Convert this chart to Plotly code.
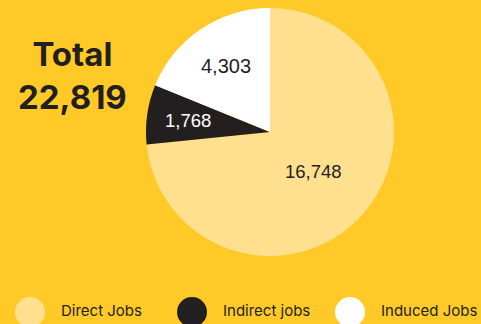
import math
import plotly.graph_objects as go

labels = ["Direct Jobs", "Indirect jobs", "Induced Jobs"]
values = [16748, 1768, 4303]
colors = ["#FFE08F", "#231F20", "#FFFFFF"]
text_colors = ["#231F20", "#FFFFFF", "#231F20"]
total_label = "Total"

W, H = 481, 324
BG = "#FFCA27"
INK = "#231F20"

# pie box in pixels
PX0, PX1, PY0, PY1 = 146, 394, 8, 256
CX, CY, R = (PX0 + PX1) / 2, (PY0 + PY1) / 2, (PX1 - PX0) / 2
label_r = [0.47, 0.67, 0.64]  # how far out the value labels sit
label_size = [18.5, 18.5, 20]

fig = go.Figure(
    go.Pie(
        labels=labels,
        values=values,
        sort=False,
        direction="clockwise",
        rotation=0,
        marker=dict(colors=colors, line=dict(width=0)),
        textinfo="none",
        hoverinfo="label+value",
        showlegend=False,
        domain=dict(x=[PX0 / W, PX1 / W], y=[(H - PY1) / H, (H - PY0) / H]),
    )
)

# value labels at slice mid-angles (clockwise from 12 o'clock)
total = sum(values)
start = 0.0
for v, rf, c, s in zip(values, label_r, text_colors, label_size):
    mid = (start + v / 2) / total * 2 * math.pi
    start += v
    x = CX + math.sin(mid) * R * rf
    y = CY - math.cos(mid) * R * rf
    fig.add_annotation(
        x=x / W, y=1 - y / H, xref="paper", yref="paper",
        xanchor="center", yanchor="middle", showarrow=False,
        text=f"{v:,}", font=dict(family="Liberation Sans, Arial", size=s, color=c),
    )

# total block on the left
fig.add_annotation(
    x=72 / W, y=1 - 75 / H, xref="paper", yref="paper",
    xanchor="center", yanchor="middle",
    text=f"<b>{total_label}<br>{total:,}</b>",
    showarrow=False, align="center",
    font=dict(family="Inter, Lato, sans-serif", size=33, color=INK, weight=800),
)

# legend with big round markers
legend_x = [30, 192, 350]
for i, name in enumerate(labels):
    cx = legend_x[i]
    fig.add_shape(
        type="circle", xref="paper", yref="paper",
        x0=(cx - 15) / W, x1=(cx + 15) / W,
        y0=1 - 327 / H, y1=1 - 297 / H,
        fillcolor=colors[i], line=dict(width=0),
    )
    fig.add_annotation(
        x=(cx + 29) / W, y=1 - 310 / H, xref="paper", yref="paper",
        text=name, showarrow=False, xanchor="left", yanchor="middle",
        font=dict(family="Inter, sans-serif", size=15, color=INK),
    )

fig.update_layout(
    width=W, height=H,
    margin=dict(l=0, r=0, t=0, b=0),
    paper_bgcolor=BG, plot_bgcolor=BG,
)

fig.write_html(
    "out.html",
    config={"displayModeBar": False},
    post_script="document.body.style.margin='0';",
)
